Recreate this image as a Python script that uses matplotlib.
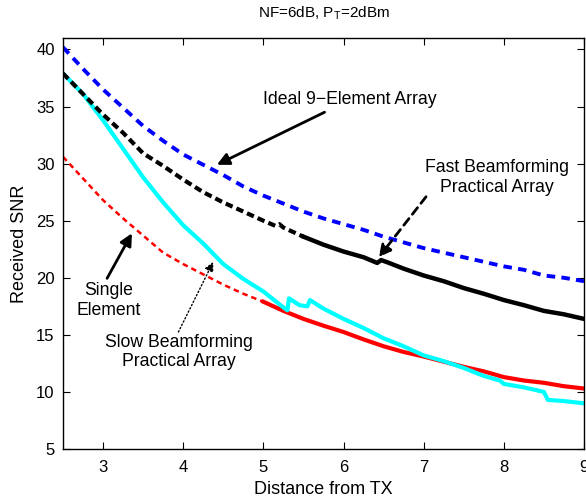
import numpy as np
import matplotlib
matplotlib.use('Agg')
import matplotlib.pyplot as plt

plt.rcParams['font.family'] = ['Liberation Sans', 'DejaVu Sans']

# distance axis shared by all curves
dist = [2.5, 2.75, 3.0, 3.25, 3.5, 3.75, 4.0, 4.25, 4.5, 4.75, 5.0, 5.25, 5.5,
        5.75, 6.0, 6.25, 6.5, 6.75, 7.0, 7.25, 7.5, 7.75, 8.0, 8.25, 8.5, 8.75, 9.0]

snr_ideal = [40.2, 38.3, 36.5, 34.9, 33.3, 32.0, 30.8, 29.9, 29.0, 28.0, 27.2, 26.5, 25.8,
             25.2, 24.7, 24.2, 23.6, 23.1, 22.6, 22.2, 21.8, 21.4, 21.0, 20.7, 20.2, 20.0, 19.7]

dist_fast = [2.5, 2.75, 3.0, 3.25, 3.5, 3.75, 4.0, 4.25, 4.5, 4.75, 5.0, 5.15, 5.2, 5.25, 5.5,
             5.75, 6.0, 6.25, 6.42, 6.47, 6.55, 6.75, 7.0, 7.25, 7.5, 7.75, 8.0, 8.25, 8.5, 8.75, 9.0]
snr_fast = [37.9, 36.1, 34.3, 32.7, 30.9, 29.8, 28.6, 27.5, 26.6, 25.8, 25.0, 24.55, 24.7, 24.4, 23.6,
            22.9, 22.3, 21.8, 21.3, 21.55, 21.35, 20.8, 20.2, 19.7, 19.1, 18.6, 18.05, 17.6, 17.1, 16.8, 16.4]

dist_slow = [2.5, 2.75, 3.0, 3.25, 3.5, 3.75, 4.0, 4.25, 4.5, 4.75, 5.0, 5.25, 5.3, 5.32, 5.45,
             5.55, 5.58, 5.75, 6.0, 6.25, 6.5, 6.75, 7.0, 7.25, 7.5, 7.75, 7.95, 8.0, 8.25, 8.5,
             8.55, 8.75, 9.0]
snr_slow = [37.9, 36.1, 33.8, 31.3, 28.8, 26.6, 24.6, 23.0, 21.2, 19.9, 18.8, 17.4, 17.15, 18.2, 17.6,
            17.5, 18.05, 17.3, 16.4, 15.6, 14.7, 14.0, 13.2, 12.7, 12.1, 11.4, 11.0, 10.7, 10.4, 10.0,
            9.3, 9.2, 9.0]

snr_single = [30.6, 28.7, 26.8, 25.2, 23.7, 22.2, 21.2, 20.3, 19.4, 18.6, 17.9, 17.1, 16.4,
              15.8, 15.25, 14.6, 14.0, 13.5, 13.1, 12.65, 12.2, 11.8, 11.3, 11.0, 10.8, 10.5, 10.3]

dist = np.array(dist)
dist_fast = np.array(dist_fast)
snr_fast = np.array(snr_fast)
snr_single = np.array(snr_single)

fig = plt.figure(figsize=(5.86, 5.01), dpi=100)
ax = fig.add_axes([0.1075, 0.1038, 0.889, 0.8202])

# single element: thin dashed then noisy solid
m1 = dist <= 5.0
m2 = dist >= 5.0
ax.plot(dist[m1], snr_single[m1], color='red', lw=1.8, dashes=(2.2, 1.6))
ax.plot(dist[m2], snr_single[m2], color='red', lw=3.0)

ax.plot(dist_slow, snr_slow, color='cyan', lw=3.0)

f1 = dist_fast <= 5.5
f2 = dist_fast >= 5.5
ax.plot(dist_fast[f1], snr_fast[f1], color='black', lw=3.0, dashes=(1.8, 1.0))
ax.plot(dist_fast[f2], snr_fast[f2], color='black', lw=3.2)

ax.plot(dist, snr_ideal, color='blue', lw=2.8, dashes=(2.2, 1.6))

ax.set_xlim(2.5, 9)
ax.set_ylim(5, 41)
ax.set_xticks([3, 4, 5, 6, 7, 8, 9])
ax.set_yticks([5, 10, 15, 20, 25, 30, 35, 40])
ax.tick_params(direction='in', top=True, right=True, labelsize=12, length=5, width=0.8)
ax.tick_params(axis='x', pad=8)
ax.tick_params(axis='y', pad=6)
for s in ax.spines.values():
    s.set_linewidth(1.0)

ax.set_xlabel('Distance from TX', fontsize=13, labelpad=4)
ax.set_ylabel('Received SNR', fontsize=13, labelpad=6)
ax.set_title('NF=6dB, P$_\\mathregular{T}$=2dBm', fontsize=11, pad=15)

# annotations
fs = 12.7
ls = 1.2
ax.annotate('Ideal 9\u2212Element Array', xy=(4.42, 29.9), xytext=(5.0, 35.6),
            fontsize=fs, ha='left', va='center',
            arrowprops=dict(arrowstyle='-|>', color='black', lw=2, mutation_scale=18,
                            shrinkA=2, shrinkB=0))
ax.annotate('Fast Beamforming\nPractical Array', xy=(6.44, 21.8), xytext=(7.91, 28.8),
            fontsize=fs, ha='center', va='center', linespacing=ls)
ax.annotate('', xy=(6.44, 21.8), xytext=(7.03, 27.1),
            arrowprops=dict(arrowstyle='-|>', color='black', lw=2, linestyle=(0, (3, 2)),
                            mutation_scale=18, shrinkA=0, shrinkB=0))
ax.annotate('Single\nElement', xy=(3.36, 23.9), xytext=(3.07, 18.0),
            fontsize=fs, ha='center', va='center', linespacing=ls)
ax.annotate('', xy=(3.36, 23.9), xytext=(3.05, 19.95),
            arrowprops=dict(arrowstyle='-|>', color='black', lw=2, mutation_scale=18,
                            shrinkA=0, shrinkB=0))
ax.annotate('Slow Beamforming\nPractical Array', xy=(4.37, 21.4), xytext=(3.95, 13.5),
            fontsize=fs, ha='center', va='center', linespacing=ls)
ax.annotate('', xy=(4.375, 21.4), xytext=(3.94, 15.25),
            arrowprops=dict(arrowstyle='-|>', color='black', lw=1, linestyle=':',
                            mutation_scale=14, shrinkA=0, shrinkB=0))

fig.savefig('out.png', dpi=100)
